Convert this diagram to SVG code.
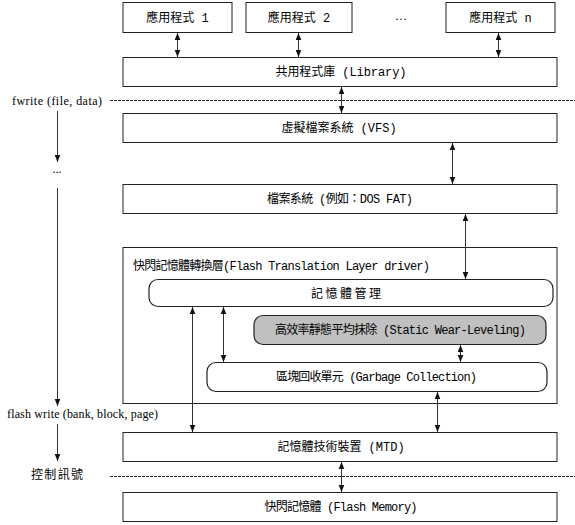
<svg xmlns="http://www.w3.org/2000/svg" width="575" height="525" viewBox="0 0 575 525">
<style>
.box{fill:#fff;stroke:#222;stroke-width:1}
.rbox{fill:#fff;stroke:#222;stroke-width:1.2}
.gray{fill:#c0c0c0;stroke:#222;stroke-width:1.2}
.t{font-family:"Liberation Mono","Noto Sans CJK TC",monospace;font-size:12px;fill:#000;text-anchor:middle}
.s{font-family:"Liberation Serif","Noto Sans CJK TC",serif;font-size:12px;fill:#000}
.ln{stroke:#333;stroke-width:1;fill:none}
.dot{stroke:#222;stroke-width:1;stroke-dasharray:3 1;fill:none}
</style>
<defs>
<marker id="ah" viewBox="0 0 10 10" refX="10" refY="5" markerWidth="7" markerHeight="7" markerUnits="userSpaceOnUse" orient="auto-start-reverse">
<path d="M0,1 L10,5 L0,9 z" fill="#111"/>
</marker>
</defs>

<g id="app1"><rect class="box" x="123" y="2.5" width="109" height="30"/><text class="t" x="177.5" y="21.5">應用程式 1</text></g>
<g id="app2"><rect class="box" x="246" y="2.5" width="106" height="30"/><text class="t" x="299" y="21.5">應用程式 2</text></g>
<g id="ellipsis1"><text class="s" x="401" y="20" text-anchor="middle">…</text></g>
<g id="appn"><rect class="box" x="446" y="2.5" width="109" height="30"/><text class="t" x="500.5" y="21.5">應用程式 n</text></g>

<g id="library"><rect class="box" x="123" y="57.5" width="434" height="29"/><text class="t" x="341" y="76" textLength="131">共用程式庫 (Library)</text></g>
<g id="vfs"><rect class="box" x="123" y="113.5" width="434" height="29"/><text class="t" x="339" y="132">虛擬檔案系統 (VFS)</text></g>
<g id="fs"><rect class="box" x="123" y="184.5" width="434" height="29"/><text class="t" x="340" y="203" textLength="146">檔案系統 (例如：DOS FAT)</text></g>

<g id="ftl"><rect class="box" x="123" y="247.5" width="434" height="156"/><text class="t" x="133" y="270" style="text-anchor:start" textLength="297">快閃記憶體轉換層(Flash Translation Layer driver)</text></g>
<g id="memmgmt"><rect class="rbox" x="149" y="279.5" width="404" height="27" rx="9"/><text class="t" x="346" y="297.5" textLength="70">記憶體管理</text></g>
<g id="swl"><rect class="gray" x="254" y="315.5" width="292" height="29" rx="9"/><text class="t" x="400.5" y="334" textLength="251">高效率靜態平均抹除 (Static Wear-Leveling)</text></g>
<g id="gc"><rect class="rbox" x="207" y="362.5" width="340" height="29" rx="9"/><text class="t" x="376.5" y="381" textLength="201">區塊回收單元 (Garbage Collection)</text></g>

<g id="mtd"><rect class="box" x="123" y="432.5" width="434" height="29"/><text class="t" x="341" y="451">記憶體技術裝置 (MTD)</text></g>
<g id="flash"><rect class="box" x="123" y="492.5" width="434" height="29"/><text class="t" x="341" y="511" textLength="153">快閃記憶體 (Flash Memory)</text></g>

<g id="labels">
<text class="s" x="12" y="105" textLength="90">fwrite (file, data)</text>
<text class="s" x="57" y="173" text-anchor="middle">...</text>
<text class="s" x="7" y="418" textLength="151">flash write (bank, block, page)</text>
<text class="s" x="31" y="479" textLength="52">控制訊號</text>
</g>

<g id="connectors">
<line class="dot" x1="110" y1="100.5" x2="575" y2="100.5"/>
<line class="dot" x1="110" y1="476.5" x2="575" y2="476.5"/>
<line class="ln" x1="177.5" y1="33" x2="177.5" y2="57" marker-start="url(#ah)" marker-end="url(#ah)"/>
<line class="ln" x1="298.5" y1="33" x2="298.5" y2="57" marker-start="url(#ah)" marker-end="url(#ah)"/>
<line class="ln" x1="498.5" y1="33" x2="498.5" y2="57" marker-start="url(#ah)" marker-end="url(#ah)"/>
<line class="ln" x1="341.5" y1="87" x2="341.5" y2="113" marker-start="url(#ah)" marker-end="url(#ah)"/>
<line class="ln" x1="452.5" y1="143" x2="452.5" y2="184" marker-start="url(#ah)" marker-end="url(#ah)"/>
<line class="ln" x1="465.5" y1="214" x2="465.5" y2="279" marker-start="url(#ah)" marker-end="url(#ah)"/>
<line class="ln" x1="223.5" y1="307" x2="223.5" y2="362" marker-start="url(#ah)" marker-end="url(#ah)"/>
<line class="ln" x1="460.5" y1="345" x2="460.5" y2="362" marker-start="url(#ah)" marker-end="url(#ah)"/>
<line class="ln" x1="192.5" y1="307" x2="192.5" y2="432" marker-start="url(#ah)" marker-end="url(#ah)"/>
<line class="ln" x1="437.5" y1="392" x2="437.5" y2="432" marker-start="url(#ah)" marker-end="url(#ah)"/>
<line class="ln" x1="341.5" y1="462" x2="341.5" y2="492" marker-start="url(#ah)" marker-end="url(#ah)"/>
<line class="ln" x1="57.5" y1="111" x2="57.5" y2="162" marker-end="url(#ah)"/>
<line class="ln" x1="57.5" y1="188" x2="57.5" y2="406" marker-end="url(#ah)"/>
<line class="ln" x1="57.5" y1="424" x2="57.5" y2="461" marker-end="url(#ah)"/>
</g>
</svg>
